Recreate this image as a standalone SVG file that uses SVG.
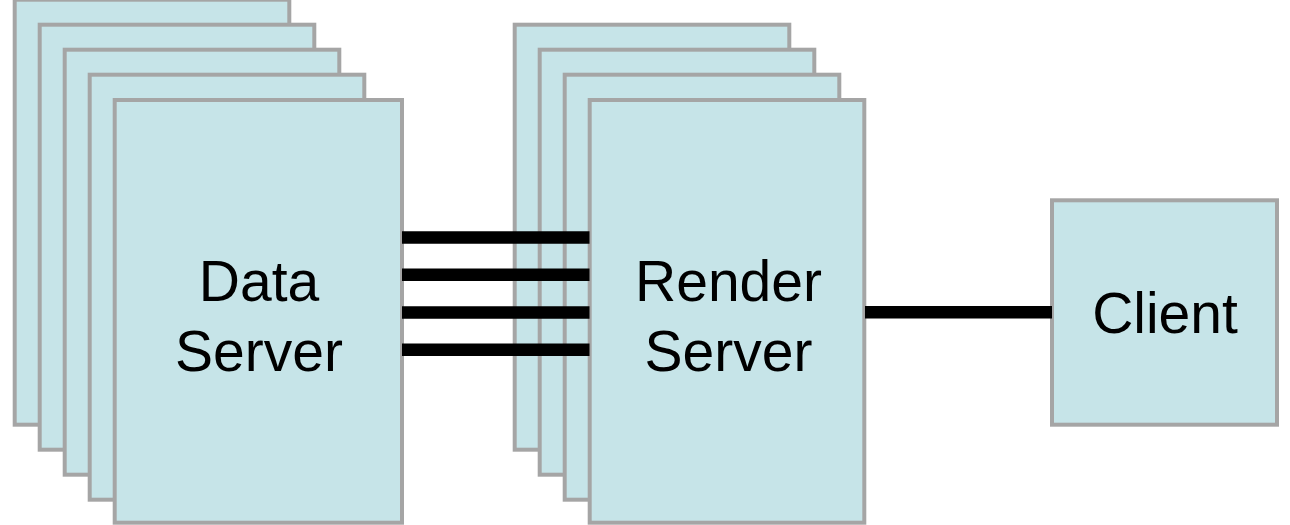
<svg xmlns="http://www.w3.org/2000/svg" width="1290" height="525" viewBox="0 0 1290 525">
  <style>
    .box { fill: #c6e4e8; stroke: #a5a5a5; stroke-width: 4; }
    .lbl { font-family: "Liberation Sans", Arial, sans-serif; font-size: 57px; fill: #000; text-anchor: middle; }
    .wire { stroke: #000; stroke-width: 12.5; fill: none; }
  </style>
  <rect width="1290" height="525" fill="#fff"/>
  <g id="data-server">
    <rect class="box" x="14.7" y="-0.3" width="274.6" height="425"/>
    <rect class="box" x="39.7" y="24.7" width="274.6" height="425"/>
    <rect class="box" x="64.7" y="49.7" width="274.6" height="425"/>
    <rect class="box" x="89.7" y="74.7" width="274.6" height="425"/>
    <rect class="box" x="114.7" y="100" width="287.3" height="422.7"/>
    <text class="lbl" x="259" y="301">Data</text>
    <text class="lbl" x="259" y="371">Server</text>
  </g>
  <g id="render-server">
    <rect class="box" x="514.7" y="24.7" width="274.6" height="425"/>
    <rect class="box" x="539.7" y="49.7" width="274.6" height="425"/>
    <rect class="box" x="564.7" y="74.7" width="274.6" height="425"/>
    <rect class="box" x="589.7" y="100" width="274.6" height="422.7"/>
    <text class="lbl" x="728.5" y="301">Render</text>
    <text class="lbl" x="728.5" y="371">Server</text>
  </g>
  <g id="client">
    <rect class="box" x="1052" y="200.3" width="225" height="224.4"/>
    <text class="lbl" x="1165" y="333" font-size="56">Client</text>
  </g>
  <g id="connectors">
    <line class="wire" x1="402" y1="237.5" x2="589.5" y2="237.5"/>
    <line class="wire" x1="402" y1="274.8" x2="589.5" y2="274.8"/>
    <line class="wire" x1="402" y1="312.5" x2="589.5" y2="312.5"/>
    <line class="wire" x1="402" y1="349.8" x2="589.5" y2="349.8"/>
    <line class="wire" x1="865" y1="312.3" x2="1052" y2="312.3"/>
  </g>
</svg>
